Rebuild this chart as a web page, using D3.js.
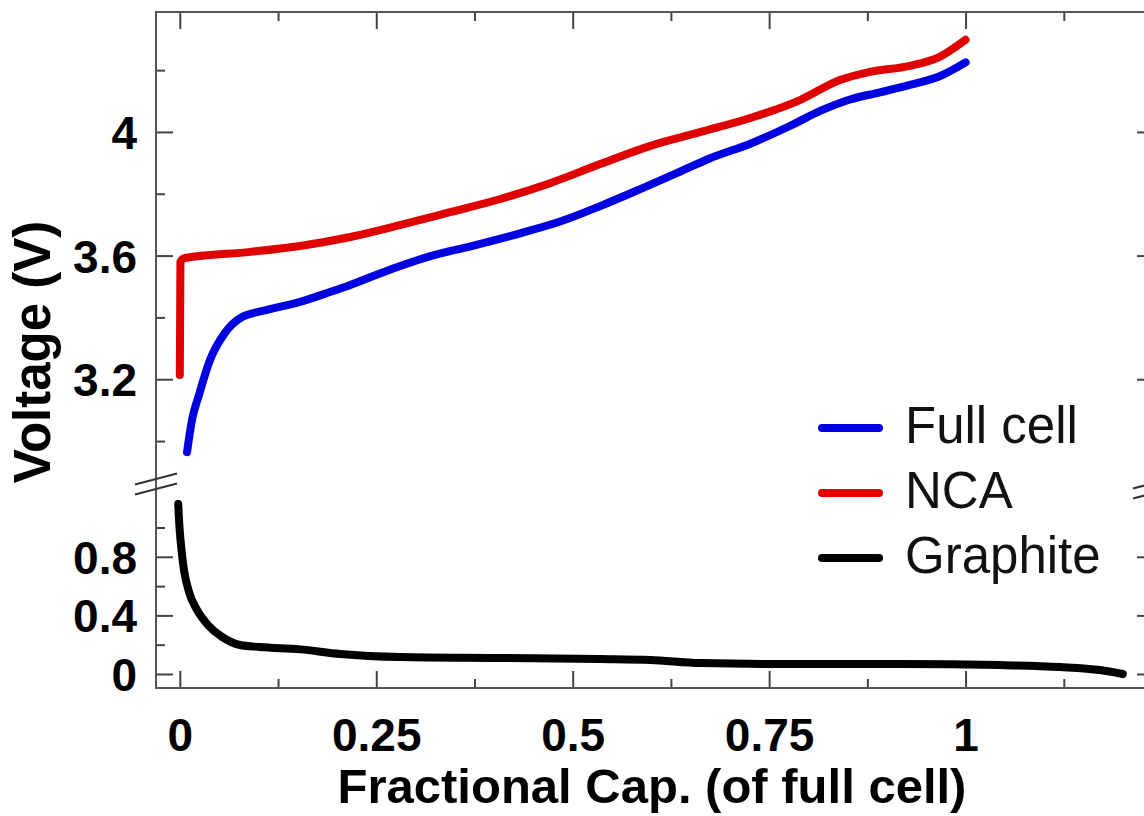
<!DOCTYPE html>
<html>
<head>
<meta charset="utf-8">
<script src="https://cdn.jsdelivr.net/npm/d3@7"></script>
<style>
  body { margin: 0; background: #fff; }
  svg { display: block; font-family: "Liberation Sans", Arial, sans-serif; }
</style>
</head>
<body>
<svg></svg>
<script>
// fractional capacity (x) and voltage (y)
const fullCellX = [0.0092, 0.0155, 0.0244, 0.0384, 0.0575, 0.0792, 0.111, 0.153, 0.191, 0.217, 0.268, 0.319, 0.37, 0.433, 0.484, 0.535, 0.586, 0.637, 0.675, 0.726, 0.777, 0.815, 0.853, 0.891, 0.929, 0.967, 1.0];
const fullCellV = [2.964, 3.068, 3.149, 3.262, 3.35, 3.401, 3.424, 3.45, 3.482, 3.505, 3.555, 3.598, 3.63, 3.672, 3.71, 3.76, 3.815, 3.872, 3.915, 3.962, 4.02, 4.068, 4.105, 4.128, 4.152, 4.18, 4.225];

const ncaX = [0, 0.0008, 0.0066, 0.09, 0.153, 0.217, 0.281, 0.345, 0.408, 0.472, 0.535, 0.599, 0.663, 0.726, 0.79, 0.84, 0.878, 0.929, 0.967, 1.0];
const ncaV = [3.214, 3.58, 3.592, 3.612, 3.631, 3.66, 3.699, 3.741, 3.783, 3.835, 3.896, 3.955, 4.0, 4.045, 4.104, 4.168, 4.194, 4.214, 4.243, 4.298];

const graphiteX = [-0.002, -0.001, 0.0015, 0.0053, 0.0117, 0.0219, 0.0359, 0.0537, 0.0766, 0.102, 0.153, 0.204, 0.28, 0.408, 0.535, 0.599, 0.662, 0.789, 0.916, 1.044, 1.12, 1.171, 1.2];
const graphiteV = [1.16, 1.051, 0.881, 0.71, 0.56, 0.437, 0.334, 0.253, 0.198, 0.184, 0.168, 0.137, 0.116, 0.109, 0.102, 0.096, 0.075, 0.068, 0.068, 0.061, 0.048, 0.027, 0];

const xMajor = [0, 0.25, 0.5, 0.75, 1];
const xMinor = [0.125, 0.375, 0.625, 0.875, 1.125];
const yTopMajor = [3.2, 3.6, 4];
const yTopMinor = [3.0, 3.4, 3.8, 4.2];
const yBotMajor = [0, 0.4, 0.8];
const yBotMinor = [0.2, 0.6, 1.0];

const seriesNames = ["Full cell", "NCA", "Graphite"];
const seriesColors = ["#0000e0", "#e00000", "#000000"];

const size = { w: 1144, h: 816 };
const plot = { l: 156, r: 1154, t: 12, b: 688, brk: 484 };

const svg = d3.select("svg").attr("width", size.w).attr("height", size.h);

const x = d3.scaleLinear().domain([-0.0303, 1.2398]).range([plot.l, plot.r]);
const yTop = d3.scaleLinear().domain([2.861, 4.388]).range([plot.brk, plot.t]);
const yBot = d3.scaleLinear().domain([-0.0956, 1.297]).range([plot.b, plot.brk]);

const tickCol = "#444";
const big = 17, small = 9;

function styleAxis(g) {
	g.select(".domain").remove();
	g.selectAll("line").attr("stroke", tickCol).attr("stroke-width", 2);
	g.selectAll("text").attr("fill", "#000").attr("font-weight", "bold").attr("font-size", 46);
}

// left axes
[[yTop, yTopMajor, yTopMinor], [yBot, yBotMajor, yBotMinor]].forEach(([sc, maj, min]) => {
	svg.append("g").attr("transform", `translate(${plot.l},0)`)
		.call(d3.axisLeft(sc).tickValues(maj).tickSize(-big).tickPadding(19).tickFormat(d3.format("")))
		.call(styleAxis)
		.selectAll("text").attr("dy", "0.36em");
	svg.append("g").attr("transform", `translate(${plot.l},0)`)
		.call(d3.axisLeft(sc).tickValues(min).tickSize(-small).tickFormat(""))
		.call(styleAxis);
	// right side
	svg.append("g").attr("transform", `translate(${plot.r},0)`)
		.call(d3.axisRight(sc).tickValues(maj).tickSize(-big).tickFormat(""))
		.call(styleAxis);
	svg.append("g").attr("transform", `translate(${plot.r},0)`)
		.call(d3.axisRight(sc).tickValues(min).tickSize(-small).tickFormat(""))
		.call(styleAxis);
});

// bottom + top axes
svg.append("g").attr("transform", `translate(0,${plot.b})`)
	.call(d3.axisBottom(x).tickValues(xMajor).tickSize(-big).tickPadding(30).tickFormat(d3.format("")))
	.call(styleAxis);
svg.append("g").attr("transform", `translate(0,${plot.b})`)
	.call(d3.axisBottom(x).tickValues(xMinor).tickSize(-small).tickFormat(""))
	.call(styleAxis);
svg.append("g").attr("transform", `translate(0,${plot.t})`)
	.call(d3.axisTop(x).tickValues(xMajor).tickSize(-big).tickFormat(""))
	.call(styleAxis);
svg.append("g").attr("transform", `translate(0,${plot.t})`)
	.call(d3.axisTop(x).tickValues(xMinor).tickSize(-small).tickFormat(""))
	.call(styleAxis);

// frame
svg.append("rect")
	.attr("x", plot.l).attr("y", plot.t)
	.attr("width", plot.r - plot.l).attr("height", plot.b - plot.t)
	.attr("fill", "none").attr("stroke", "#555").attr("stroke-width", 2);

// break marks
[[plot.l, plot.brk], [plot.r, plot.brk + 4]].forEach(([bx, by]) => {
	[-5, 5].forEach((off) => {
		svg.append("line")
			.attr("x1", bx - 21).attr("y1", by + off + 5.5)
			.attr("x2", bx + 21).attr("y2", by + off - 5.5)
			.attr("stroke", "#333").attr("stroke-width", 2);
	});
});

// curves
const lineTop = d3.line().x((d) => x(d[0])).y((d) => yTop(d[1])).curve(d3.curveMonotoneX);
const lineBot = d3.line().x((d) => x(d[0])).y((d) => yBot(d[1])).curve(d3.curveMonotoneX);

const plotG = svg.append("g").attr("fill", "none").attr("stroke-width", 8)
	.attr("stroke-linecap", "round").attr("stroke-linejoin", "round");

plotG.append("path").attr("stroke", seriesColors[0])
	.attr("d", lineTop(d3.zip(fullCellX, fullCellV)));
plotG.append("path").attr("stroke", seriesColors[1])
	.attr("d", lineTop(d3.zip(ncaX, ncaV)));
plotG.append("path").attr("stroke", seriesColors[2])
	.attr("d", lineBot(d3.zip(graphiteX, graphiteV)));

// axis titles
svg.append("text")
	.attr("x", (plot.l + plot.r) / 2 - 3).attr("y", 803)
	.attr("text-anchor", "middle").attr("font-weight", "bold").attr("font-size", 49)
	.text("Fractional Cap. (of full cell)");
svg.append("text")
	.attr("transform", `translate(50,${(plot.t + plot.b) / 2 + 2}) rotate(-90)`)
	.attr("text-anchor", "middle").attr("font-weight", "bold").attr("font-size", 51)
	.text("Voltage (V)");

// legend
const legend = svg.append("g").attr("transform", "translate(818,443)");
seriesNames.forEach((name, i) => {
	const row = legend.append("g").attr("transform", `translate(0,${i * 65})`);
	row.append("line")
		.attr("x1", 4).attr("x2", 61).attr("y1", -15).attr("y2", -15)
		.attr("stroke", seriesColors[i]).attr("stroke-width", 8).attr("stroke-linecap", "round");
	row.append("text").attr("x", 87).attr("y", 0)
		.attr("font-size", 51).attr("fill", "#111").text(name);
});
</script>
</body>
</html>
